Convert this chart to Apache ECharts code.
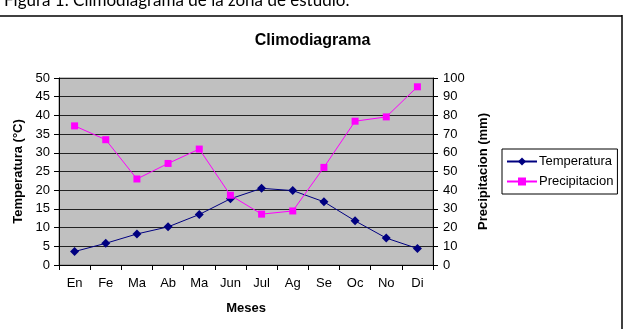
<!DOCTYPE html>
<html>
<head>
<meta charset="utf-8">
<title>Climodiagrama</title>
<script src="https://cdn.jsdelivr.net/npm/echarts@6/dist/echarts.min.js"></script>
</head>
<body style="margin:0;background:#fff;">
<div id="main" style="width:625px;height:329px;"></div>
<script type="text/javascript">
    // datos del climodiagrama
    var meses = ['En', 'Fe', 'Ma', 'Ab', 'Ma', 'Jun', 'Jul', 'Ag', 'Se', 'Oc', 'No', 'Di'];
    var temperatura = [3.6, 5.8, 8.3, 10.2, 13.5, 17.7, 20.5, 19.9, 16.9, 11.8, 7.2, 4.4];
    var precipitacion = [74.4, 67, 46, 54.3, 62, 37.3, 27.2, 28.9, 52.2, 76.9, 79.2, 95.3];

    var myChart = echarts.init(document.getElementById('main'));
    var fuente = 'Liberation Sans';
    var option = {
        animation: false,
        textStyle: { fontFamily: fuente },
        title: {
            text: 'Climodiagrama',
            left: 'center',
            top: 28,
            textStyle: { fontSize: 16, fontWeight: 'bold', color: '#000', fontFamily: fuente }
        },
        graphic: [
            {
                type: 'text', left: 4, top: -8,
                style: { text: 'Figura 1. Climodiagrama de la zona de estudio.', fontSize: 17, fontFamily: 'Lato', fill: '#000' }
            },
            { type: 'line', shape: { x1: 0, y1: 16, x2: 622, y2: 16 }, style: { stroke: '#000', lineWidth: 1.5 } },
            { type: 'line', shape: { x1: 622, y1: 15, x2: 622, y2: 329 }, style: { stroke: '#000', lineWidth: 1.5 } }
        ],
        legend: {
            orient: 'vertical',
            left: 502,
            top: 149,
            padding: [6, 4, 6, 4],
            itemGap: 7,
            itemWidth: 30,
            itemHeight: 10,
            borderColor: '#000',
            borderWidth: 1,
            textStyle: { fontSize: 13, color: '#000', fontFamily: fuente, padding: [0, 0, 0, -3] },
            data: ['Temperatura', 'Precipitacion']
        },
        grid: {
            left: 59, right: 192, top: 78, bottom: 64,
            show: true,
            backgroundColor: '#c0c0c0',
            borderColor: '#808080',
            borderWidth: 1
        },
        xAxis: {
            type: 'category',
            data: meses,
            boundaryGap: true,
            name: 'Meses',
            nameLocation: 'middle',
            nameGap: 37,
            nameTextStyle: { fontSize: 13, fontWeight: 'bold', color: '#000' },
            axisLine: { lineStyle: { color: '#000' } },
            axisTick: { show: true, alignWithLabel: false, length: 5, lineStyle: { color: '#000' } },
            axisLabel: { fontSize: 13, color: '#000', margin: 12 }
        },
        yAxis: [
            {
                type: 'value',
                min: 0, max: 50, interval: 5,
                name: 'Temperatura (°C)',
                nameLocation: 'middle',
                nameGap: 32,
                nameTextStyle: { fontSize: 13, fontWeight: 'bold', color: '#000' },
                axisLine: { show: true, lineStyle: { color: '#000' } },
                axisTick: { show: true, length: 5, lineStyle: { color: '#000' } },
                axisLabel: { fontSize: 13, color: '#000', margin: 9 },
                splitLine: { show: true, lineStyle: { color: '#222', width: 1 } }
            },
            {
                type: 'value',
                min: 0, max: 100, interval: 10,
                name: 'Precipitacion (mm)',
                nameLocation: 'middle',
                nameGap: 44,
                nameTextStyle: { fontSize: 13, fontWeight: 'bold', color: '#000' },
                axisLine: { show: true, lineStyle: { color: '#000' } },
                axisTick: { show: true, length: 5, lineStyle: { color: '#000' } },
                axisLabel: { fontSize: 13, color: '#000', margin: 10 },
                splitLine: { show: false }
            }
        ],
        series: [
            {
                name: 'Temperatura',
                type: 'line',
                yAxisIndex: 0,
                data: temperatura,
                symbol: 'diamond',
                symbolSize: 9,
                lineStyle: { color: '#000080', width: 1 },
                itemStyle: { color: '#000080' }
            },
            {
                name: 'Precipitacion',
                type: 'line',
                yAxisIndex: 1,
                data: precipitacion,
                symbol: 'rect',
                symbolSize: 7,
                lineStyle: { color: '#ff00ff', width: 1 },
                itemStyle: { color: '#ff00ff' }
            }
        ]
    };
    myChart.setOption(option);
</script>
</body>
</html>
